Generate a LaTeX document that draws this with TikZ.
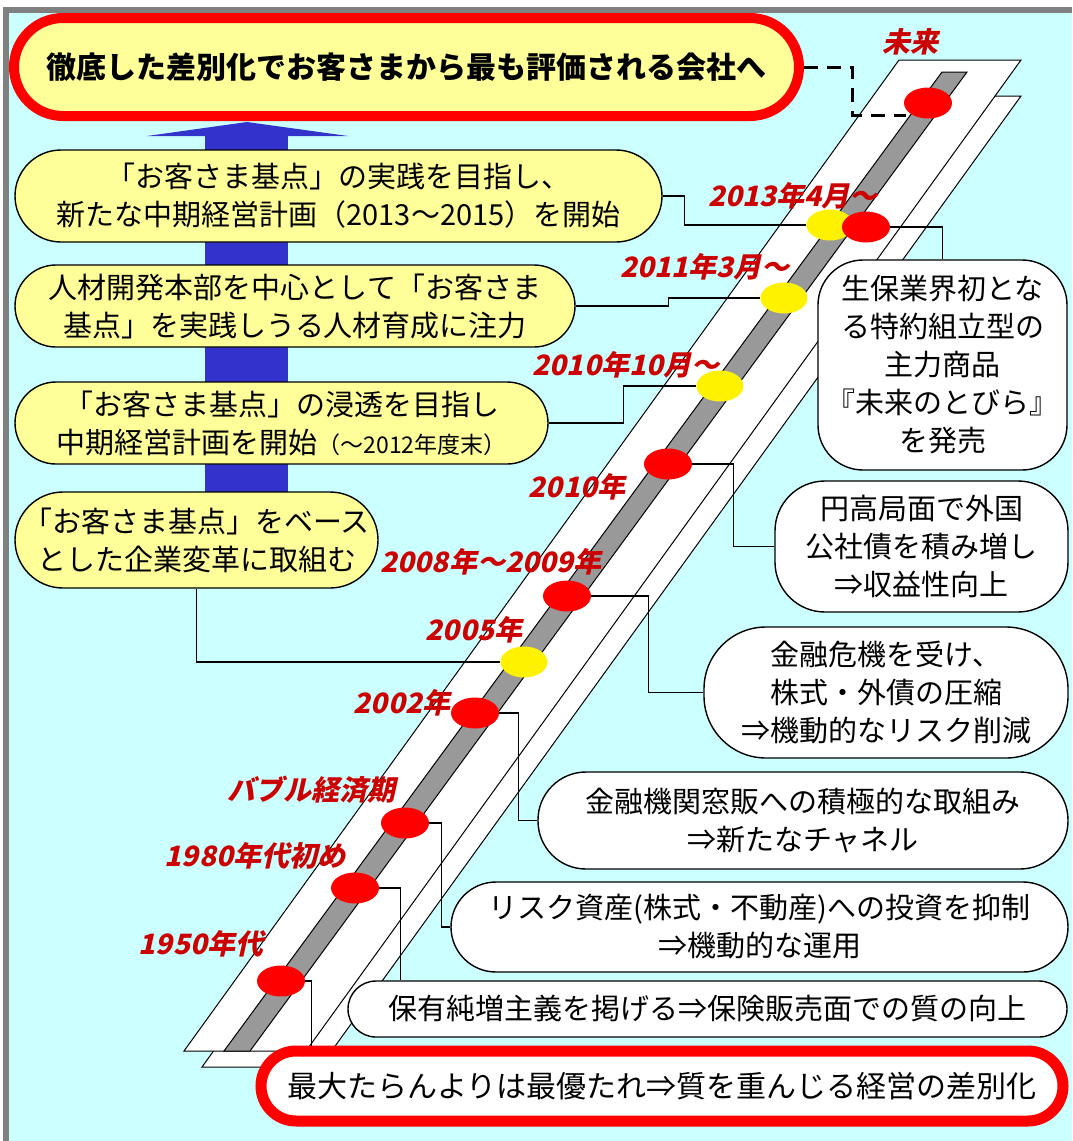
\documentclass[tikz,border=0pt]{standalone}
\usepackage{fontspec}
\setmainfont{Noto Sans CJK JP}
\newfontfamily\fechafont[FakeSlant=0.22]{Noto Sans CJK JP}
\usetikzlibrary{shapes.geometric}

\definecolor{fondo}{HTML}{CCFFFF}
\definecolor{marco}{HTML}{808080}
\definecolor{crema}{HTML}{FFFF99}
\definecolor{azul}{HTML}{3333CC}
\definecolor{barra}{HTML}{999999}
\definecolor{rojo}{HTML}{FF0000}
\definecolor{fecha}{HTML}{CC0000}

\tikzstyle{objetivo}= [rectangle,draw=rojo,line width=10,fill=crema,font=\bfseries\fontsize{30}{36}\selectfont]
\tikzstyle{paso}= [rectangle,draw,black,line width=1.4,fill=crema,align=center,inner sep=0,font=\fontsize{29}{38}\selectfont]
\tikzstyle{logro}= [rectangle,draw,black,line width=1.4,fill=white,align=center,inner sep=0,font=\fontsize{29}{38}\selectfont]
\tikzstyle{origen}= [rectangle,draw=rojo,line width=11,fill=white,inner sep=0,font=\fontsize{30}{36}\selectfont]
\tikzstyle{hitorojo}= [ellipse,fill=rojo,minimum width=48,minimum height=31,inner sep=0]
\tikzstyle{hitoamarillo}= [ellipse,fill=yellow,minimum width=47,minimum height=31,inner sep=0]
\tikzstyle{fecha}= [text=fecha,inner sep=0,font=\fechafont\bfseries\fontsize{28}{30}\selectfont]
\tikzstyle{enlace}= [black,line width=1.2]
\tikzstyle{guia}= [black,line width=3,dash pattern=on 14pt off 9pt]

\begin{document}
\begin{tikzpicture}[x=1pt,y=-1pt]
		\useasboundingbox (0,0) rectangle (1072,1141);
		\fill[fondo] (9,13) rectangle (1072,1141);
		\fill[marco] (3,7) rectangle (1072,13);
		\fill[marco] (3,7) rectangle (9,1141);

		% flecha
		\fill[azul] (205,136) rectangle (288,520);
		\fill[azul] (147,136) -- (247,122) -- (348,136) -- cycle;

		% cinta
		\draw[fill=white,line width=1] (903,96) -- (1021,96) -- (320,1067) -- (202,1067) -- cycle;
		\draw[fill=white,line width=1] (899,60) -- (1021,60) -- (306,1051) -- (184,1051) -- cycle;
		\draw[fill=barra,line width=1] (942,72) -- (967,72) -- (250,1051) -- (224,1051) -- cycle;

		\node (meta) at (406.5,67) [objetivo,minimum width=785,minimum height=98,rounded corners=49] {徹底した差別化でお客さまから最も評価される会社へ};

		\node (b1) at (338.5,196) [paso,minimum width=647,minimum height=92,rounded corners=46] {「お客さま基点」の実践を目指し、\\新たな中期経営計画（2013〜2015）を開始};
		\node (b2) at (295,306) [paso,minimum width=560,minimum height=82,rounded corners=41] {人材開発本部を中心として「お客さま\\基点」を実践しうる人材育成に注力};
		\node (b3) at (281.5,423) [paso,minimum width=533,minimum height=82,rounded corners=41] {「お客さま基点」の浸透を目指し\\中期経営計画を開始{\fontsize{23}{38}\selectfont（〜2012年度末）}};
		\node (b4) at (196.5,540) [paso,minimum width=363,minimum height=96,rounded corners=48] {「お客さま基点」をベース\\とした企業変革に取組む};

		\node (dfut) at (928,103) [hitorojo] {};
		\node (d13y) at (830,225) [hitoamarillo] {};
		\node (d13) at (866,227) [hitorojo] {};
		\node (d11) at (784,298) [hitoamarillo] {};
		\node (d10y) at (720,386) [hitoamarillo] {};
		\node (d10) at (668,464) [hitorojo] {};
		\node (d08) at (567,596) [hitorojo] {};
		\node (d05) at (524,662) [hitoamarillo] {};
		\node (d02) at (475,713) [hitorojo] {};
		\node (dbub) at (405,823) [hitorojo] {};
		\node (d80) at (355,888) [hitorojo] {};
		\node (d50) at (281,981) [hitorojo] {};

		\node (r1) at (942.5,365) [logro,minimum width=249,minimum height=210,rounded corners=45] {生保業界初とな\\る特約組立型の\\主力商品\\『未来のとびら』\\を発売};
		\node (r2) at (921.5,546.5) [logro,minimum width=293,minimum height=131,rounded corners=50] {円高局面で外国\\公社債を積み増し\\⇒収益性向上};
		\node (r3) at (886,692.5) [logro,minimum width=364,minimum height=131,rounded corners=62] {金融危機を受け、\\株式・外債の圧縮\\⇒機動的なリスク削減};
		\node (r4) at (803,820.5) [logro,minimum width=530,minimum height=97,rounded corners=48] {金融機関窓販への積極的な取組み\\⇒新たなチャネル};
		\node (r5) at (759.5,927) [logro,minimum width=617,minimum height=90,rounded corners=45] {リスク資産(株式・不動産)への投資を抑制\\⇒機動的な運用};
		\node (r6) at (707.5,1009) [logro,minimum width=719,minimum height=56,rounded corners=28] {保有純増主義を掲げる⇒保険販売面での質の向上};
		\node (r7) at (662,1086) [origen,minimum width=802,minimum height=70,rounded corners=35] {最大たらんよりは最優たれ⇒質を重んじる経営の差別化};

		\coordinate (kfut) at (906,115);
		\draw[guia] (meta.east) -- (852,67) |- (kfut);

		\draw[enlace] (b1.east) -- ++(22,0) |- (d13y);
		\draw[enlace] (b2.east) -- ++(93,0) |- (d11);
		\draw[enlace] (b3.east) -- ++(75,0) |- (d10y);
		\draw[enlace] (b4.south) |- (d05);

		\draw[enlace] (d13) -| (r1.north);
		\draw[enlace] (d10.east) -- ++(41,0) |- (r2.west);
		\draw[enlace] (d08.east) -- ++(57,0) |- (r3.west);
		\draw[enlace] (d02.east) -- ++(19,0) |- (r4.west);
		\draw[enlace] (dbub.east) -- ++(12,0) |- (r5.west);
		\draw[enlace] (d80.east) -- ++(21,0) coordinate (k80) -- (k80 |- r6.north);
		\draw[enlace] (d50.east) -- ++(6,0) coordinate (k50) -- (k50 |- r7.north);

		\node (f-fut) at (910,42) [fecha] {未来};
		\node (f-13) at (793,196) [fecha] {2013年4月〜};
		\node (f-11) at (705,267) [fecha] {2011年3月〜};
		\node (f-10b) at (626,365) [fecha] {2010年10月〜};
		\node (f-10) at (577,487) [fecha] {2010年};
		\node (f-08) at (491,562) [fecha] {2008年〜2009年};
		\node (f-05) at (474,630) [fecha] {2005年};
		\node (f-02) at (402,703) [fecha] {2002年};
		\node (f-bub) at (311,790) [fecha] {バブル経済期};
		\node (f-80) at (255,856) [fecha] {1980年代初め};
		\node (f-50) at (201,944) [fecha] {1950年代};
\end{tikzpicture}
\end{document}
